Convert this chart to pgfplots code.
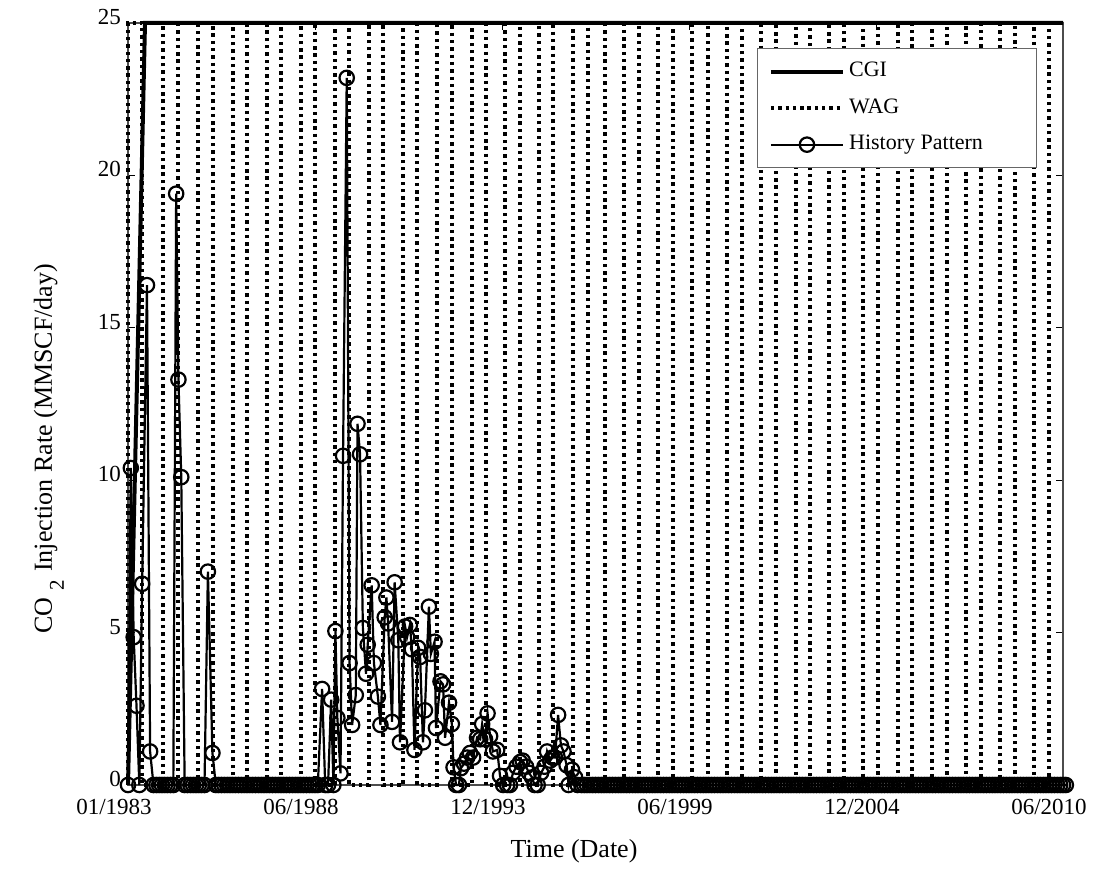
\documentclass[border=0pt]{standalone}
\usepackage{fontspec}
\setmainfont{Liberation Serif}
\usepackage{pgfplots}
\pgfplotsset{compat=1.18}
\begin{document}
\begin{tikzpicture}
\begin{axis}[
  at={(0pt,0pt)}, anchor=south west,
  width=467.5pt, height=381pt, scale only axis,
  xmin=0, xmax=330, ymin=0, ymax=25,
  xtick={0,66,132,198,264,330},
  xticklabels={01/1983,06/1988,12/1993,06/1999,12/2004,06/2010},
  ytick={0,5,10,15,20,25},
  tick align=inside, major tick length=3.5pt,
  tick style={black, line width=0.5pt},
  axis line style={black!70, line width=0.6pt},
  clip=false,
  /pgf/number format/assume math mode=true,
  tick label style={font=\fontsize{11.5}{13}\selectfont},
  xticklabel style={anchor=base, xshift=-7pt, yshift=-15pt},
  yticklabel style={yshift=3pt},
  xlabel={Time (Date)},
  ylabel={CO\hspace{0.3em}\raisebox{-6pt}{\fontsize{10.5}{12}\selectfont 2}\hspace{0.3em}Injection Rate (MMSCF/day)},
  xlabel style={at={([xshift=-10.75pt,yshift=-36.5pt]rel axis cs:0.5,0)}, anchor=base, font=\fontsize{13}{15}\selectfont},
  ylabel style={at={([xshift=-38pt,yshift=-22.5pt]rel axis cs:0,0.5)}, anchor=base, font=\fontsize{13}{15}\selectfont},
  legend cell align=left,
  legend style={at={(rel axis cs:0.673,0.967)}, anchor=north west, draw=black!60, line width=0.5pt, fill=white,
    inner xsep=5.5pt, inner ysep=4.5pt, row sep=4.25pt,
    nodes={inner sep=2pt, text height=7.5pt, text depth=2.5pt},
    font=\fontsize{11}{13}\selectfont},
  legend image code/.code={\path[draw=none,fill=none] (0pt,-3.5pt) rectangle (36pt,3.5pt);
    \draw[mark repeat=2,mark phase=2,#1] plot coordinates {(0pt,0pt) (18pt,0pt) (36pt,0pt)};},
]
% CGI
\addplot[black, line width=2pt, line join=miter] coordinates {(0,0) (6,25) (330,25)};
\addlegendentry{\makebox[86pt][l]{CGI}}
% WAG
\addplot[black, line width=2.2pt, dash pattern=on 1.7pt off 1.95pt] coordinates {
(0,0) (0,25) (4.94,25) (4.94,0) (12.35,0) (12.35,25) (17.65,25) (17.65,0) (24.71,0) (24.71,25)
(30,25) (30,0) (37.06,0) (37.06,25) (42,25) (42,0) (49.06,0) (49.06,25) (54,25) (54,0)
(61.06,0) (61.06,25) (66,25) (66,0) (73.06,0) (73.06,25) (78,25) (78,0) (85.06,0) (85.06,25)
(90,25) (90,0) (97.06,0) (97.06,25) (102,25) (102,0) (109.06,0) (109.06,25) (114.35,25) (114.35,0)
(121.41,0) (121.41,25) (126.35,25) (126.35,0) (133.06,0) (133.06,25) (138.35,25) (138.35,0)
(145.06,0) (145.06,25) (150,25) (150,0) (157.06,0) (157.06,25) (162.35,25) (162.35,0)
(168.35,0) (168.35,25) (175.06,25) (175.06,0) (180.35,0) (180.35,25) (187.06,25) (187.06,0)
(192.35,0) (192.35,25) (199.06,25) (199.06,0) (204.71,0) (204.71,25) (211.41,25) (211.41,0)
(216.71,0) (216.71,25) (223.41,25) (223.41,0) (228.71,0) (228.71,25) (235.76,25) (235.76,0)
(240.71,0) (240.71,25) (247.41,25) (247.41,0) (252.71,0) (252.71,25) (259.41,25) (259.41,0)
(264.71,0) (264.71,25) (271.76,25) (271.76,0) (276.71,0) (276.71,25) (283.76,25) (283.76,0)
(289.06,0) (289.06,25) (295.76,25) (295.76,0) (301.06,0) (301.06,25) (307.76,25) (307.76,0)
(313.06,0) (313.06,25) (319.76,25) (319.76,0) (325.06,0) (325.06,25) (330,25)};
\addlegendentry{\makebox[86pt][l]{WAG}}
% History pattern
\addplot[black, line width=1.1pt, mark=o, mark size=3.6pt, mark options={solid, line width=1.1pt}] coordinates {
(0,0) (1,10.4) (2,4.85) (3,2.6) (4,0) (5,6.6) (6.7,16.4) (7.8,1.1) (9,0) (10,0)
(11,0) (12,0) (13,0) (14,0) (15,0) (16,0) (17,19.4) (17.8,13.3) (18.8,10.1) (20,0)
(21,0) (22,0) (23,0) (24,0) (25,0) (26,0) (27,0) (28.2,7.0) (29.8,1.05) (31,0)
(32,0) (33,0) (34,0) (35,0) (36,0) (37,0) (38,0) (39,0) (40,0) (41,0)
(42,0) (43,0) (44,0) (45,0) (46,0) (47,0) (48,0) (49,0) (50,0) (51,0)
(52,0) (53,0) (54,0) (55,0) (56,0) (57,0) (58,0) (59,0) (60,0) (61,0)
(62,0) (63,0) (64,0) (65,0) (66,0) (67,0)
(68.5,3.15) (69.6,0) (70.6,0) (71.7,2.8) (72.5,0) (73.2,5.05) (73.9,2.2) (75.0,0.38)
(75.9,10.8) (77.2,23.2) (78.2,4.0) (79.1,1.97) (80.4,2.95) (81.0,11.85) (81.9,10.85)
(82.9,5.15) (84.0,3.65) (84.6,4.6) (86.0,6.55) (86.8,4.0) (88.2,2.9) (89.1,1.97)
(90.6,5.5) (91.2,6.15) (91.8,5.3) (93.2,2.07) (94.1,6.65) (95.4,4.75) (96.0,1.4)
(97.8,5.2) (98.5,4.85) (99.5,5.25) (100.2,4.45) (101.1,1.15) (102.4,4.5) (103.1,4.2)
(104.1,1.4) (104.8,2.45) (106.2,5.85) (106.9,4.3) (108.2,4.7) (108.7,1.87) (110.3,3.4)
(111.2,3.3) (111.9,1.55) (113.3,2.7) (114.3,2.0) (114.9,0.58) (115.8,0) (116.8,0)
(117.5,0.55) (118.6,0.7) (119.7,0.9) (120.7,1.05) (121.8,0.9) (123.2,1.55) (124.3,1.5)
(125.0,2.0) (126.0,1.5) (126.9,2.35) (127.8,1.6) (128.8,1.1) (130.3,1.15) (131.3,0.3)
(132.4,0) (133.8,0) (134.8,0) (135.9,0.4) (137.1,0.6) (138.4,0.75) (139.3,0.8)
(140.5,0.6) (141.5,0.4) (142.6,0.25) (143.5,0) (144.6,0) (145.8,0.4) (147.0,0.6)
(147.9,1.1) (149.0,0.8) (149.8,0.9) (150.7,0.9) (151.8,2.3) (152.8,1.3) (153.7,1.1)
(154.8,0.65) (155.5,0) (156.7,0.5) (157.8,0.25) (158.7,0)
(160,0) (161,0) (162,0) (163,0) (164,0) (165,0) (166,0) (167,0) (168,0) (169,0)
(170,0) (171,0) (172,0) (173,0) (174,0) (175,0) (176,0) (177,0) (178,0) (179,0)
(180,0) (181,0) (182,0) (183,0) (184,0) (185,0) (186,0) (187,0) (188,0) (189,0)
(190,0) (191,0) (192,0) (193,0) (194,0) (195,0) (196,0) (197,0) (198,0) (199,0)
(200,0) (201,0) (202,0) (203,0) (204,0) (205,0) (206,0) (207,0) (208,0) (209,0)
(210,0) (211,0) (212,0) (213,0) (214,0) (215,0) (216,0) (217,0) (218,0) (219,0)
(220,0) (221,0) (222,0) (223,0) (224,0) (225,0) (226,0) (227,0) (228,0) (229,0)
(230,0) (231,0) (232,0) (233,0) (234,0) (235,0) (236,0) (237,0) (238,0) (239,0)
(240,0) (241,0) (242,0) (243,0) (244,0) (245,0) (246,0) (247,0) (248,0) (249,0)
(250,0) (251,0) (252,0) (253,0) (254,0) (255,0) (256,0) (257,0) (258,0) (259,0)
(260,0) (261,0) (262,0) (263,0) (264,0) (265,0) (266,0) (267,0) (268,0) (269,0)
(270,0) (271,0) (272,0) (273,0) (274,0) (275,0) (276,0) (277,0) (278,0) (279,0)
(280,0) (281,0) (282,0) (283,0) (284,0) (285,0) (286,0) (287,0) (288,0) (289,0)
(290,0) (291,0) (292,0) (293,0) (294,0) (295,0) (296,0) (297,0) (298,0) (299,0)
(300,0) (301,0) (302,0) (303,0) (304,0) (305,0) (306,0) (307,0) (308,0) (309,0)
(310,0) (311,0) (312,0) (313,0) (314,0) (315,0) (316,0) (317,0) (318,0) (319,0)
(320,0) (321,0) (322,0) (323,0) (324,0) (325,0) (326,0) (327,0) (328,0) (329,0)
(330,0) (331,0)};
\addlegendentry{\makebox[86pt][l]{History Pattern}}
\end{axis}
\path (-64pt,-40.5pt) rectangle (492pt,392.5pt);
\end{tikzpicture}
\end{document}
